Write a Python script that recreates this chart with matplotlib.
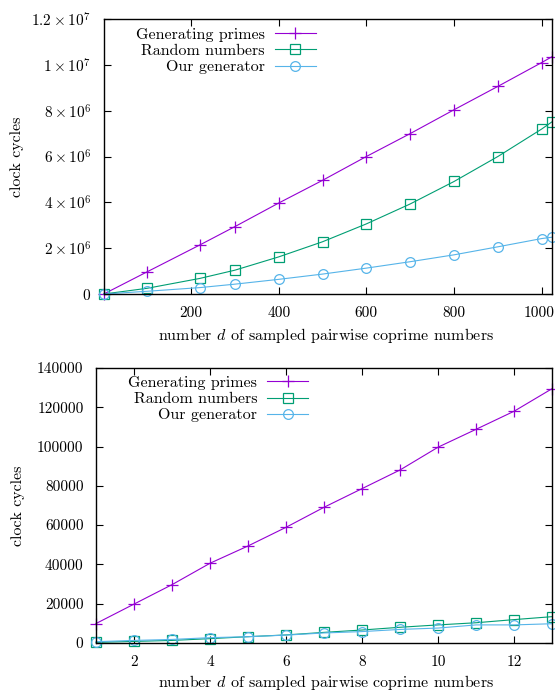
import matplotlib
matplotlib.use("Agg")
import matplotlib.pyplot as plt
import matplotlib.transforms as mtransforms

plt.rcParams["font.family"] = ["cmr10", "DejaVu Serif"]
plt.rcParams["mathtext.fontset"] = "cm"
plt.rcParams["axes.unicode_minus"] = False

# ==========================
# data
# ==========================

# top: large d
d_large = [1, 100, 220, 300, 400, 500, 600, 700, 800, 900, 1000, 1024]
primes_large = [0, 0.97e6, 2.14e6, 2.94e6, 3.97e6, 4.96e6, 6.0e6, 7.0e6,
                8.04e6, 9.06e6, 10.1e6, 10.36e6]
random_large = [0, 0.25e6, 0.68e6, 1.04e6, 1.62e6, 2.28e6, 3.06e6, 3.93e6,
                4.91e6, 6.0e6, 7.2e6, 7.52e6]
ours_large = [0, 0.12e6, 0.28e6, 0.43e6, 0.64e6, 0.87e6, 1.13e6, 1.41e6,
              1.71e6, 2.06e6, 2.42e6, 2.48e6]

top_yticks = [0, 2e6, 4e6, 6e6, 8e6, 1e7, 1.2e7]
top_ylabels = ["$0$", r"$2\times10^{6}$", r"$4\times10^{6}$",
               r"$6\times10^{6}$", r"$8\times10^{6}$", r"$1\times10^{7}$",
               r"$1.2\times10^{7}$"]
top_xticks = [200, 400, 600, 800, 1000]

# bottom: small d
d_small = [1, 2, 3, 4, 5, 6, 7, 8, 9, 10, 11, 12, 13]
primes_small = [9900, 19800, 29700, 40600, 49400, 58900, 69100, 78600,
                88100, 99700, 108800, 118000, 129500]
random_small = [300, 800, 1300, 2200, 3200, 4100, 5400, 6600, 8000, 9200,
                10300, 11900, 13400]
ours_small = [650, 1300, 1800, 2700, 3200, 4000, 5100, 5800, 6900, 7600,
              9200, 9200, 9800]

bottom_yticks = [0, 20000, 40000, 60000, 80000, 100000, 120000, 140000]
bottom_xticks = [2, 4, 6, 8, 10, 12]

labels = ["Generating primes", "Random numbers", "Our generator"]
colors = ["#9400d3", "#009e73", "#56b4e9"]
markers = ["+", "s", "o"]
msizes = [8.5, 7, 7]

FS = 11.5      # labels / legend
TFS = 11       # tick labels

fig = plt.figure(figsize=(5.55, 6.91), dpi=100)
ax_top = fig.add_axes([0.187, 0.5745, 0.808, 0.398])
ax_bot = fig.add_axes([0.173, 0.0695, 0.822, 0.398])


def draw(ax, x, series):
    for y, lab, c, m, ms in zip(series, labels, colors, markers, msizes):
        ax.plot(x, y, color=c, linewidth=0.8, marker=m, markersize=ms,
                markerfacecolor="none", markeredgecolor=c,
                markeredgewidth=0.9, label=lab, clip_on=False)
    for s in ax.spines.values():
        s.set_linewidth(1.0)
    ax.tick_params(direction="in", top=True, right=True, length=5,
                   width=0.8, labelsize=TFS, pad=9)
    ax.set_ylabel("clock cycles", fontsize=FS)
    ax.set_xlabel("number $d$ of sampled pairwise coprime numbers",
                  fontsize=FS)


def add_legend(ax, anchor):
    ax.legend(loc="upper right", bbox_to_anchor=anchor,
              frameon=False, markerfirst=False, fontsize=FS,
              handlelength=2.57, handletextpad=0.62, labelspacing=0.13,
              borderpad=0, borderaxespad=0)


# --------------------------
# top panel
# --------------------------
draw(ax_top, d_large, [primes_large, random_large, ours_large])
ax_top.set_xlim(1, 1024)
ax_top.set_ylim(0, 1.2e7)
ax_top.set_xticks(top_xticks)
ax_top.set_yticks(top_yticks)
ax_top.set_yticklabels(top_ylabels)
ax_top.yaxis.set_label_coords(-0.177, 0.5)
ax_top.xaxis.set_label_coords(0.495, -0.115)
add_legend(ax_top, (0.473, 0.969))

# last tick label sits at the figure edge, nudge it a bit
last = ax_top.get_xticklabels()[-1]
last.set_transform(last.get_transform() +
                   mtransforms.ScaledTranslation(-2 / 72, 0,
                                                 fig.dpi_scale_trans))

# --------------------------
# bottom panel
# --------------------------
draw(ax_bot, d_small, [primes_small, random_small, ours_small])
ax_bot.set_xlim(1, 13)
ax_bot.set_ylim(0, 140000)
ax_bot.set_xticks(bottom_xticks)
ax_bot.set_yticks(bottom_yticks)
ax_bot.yaxis.set_label_coords(-0.155, 0.5)
ax_bot.xaxis.set_label_coords(0.505, -0.108)
add_legend(ax_bot, (0.465, 0.972))

plt.savefig("out.png", dpi=100)
